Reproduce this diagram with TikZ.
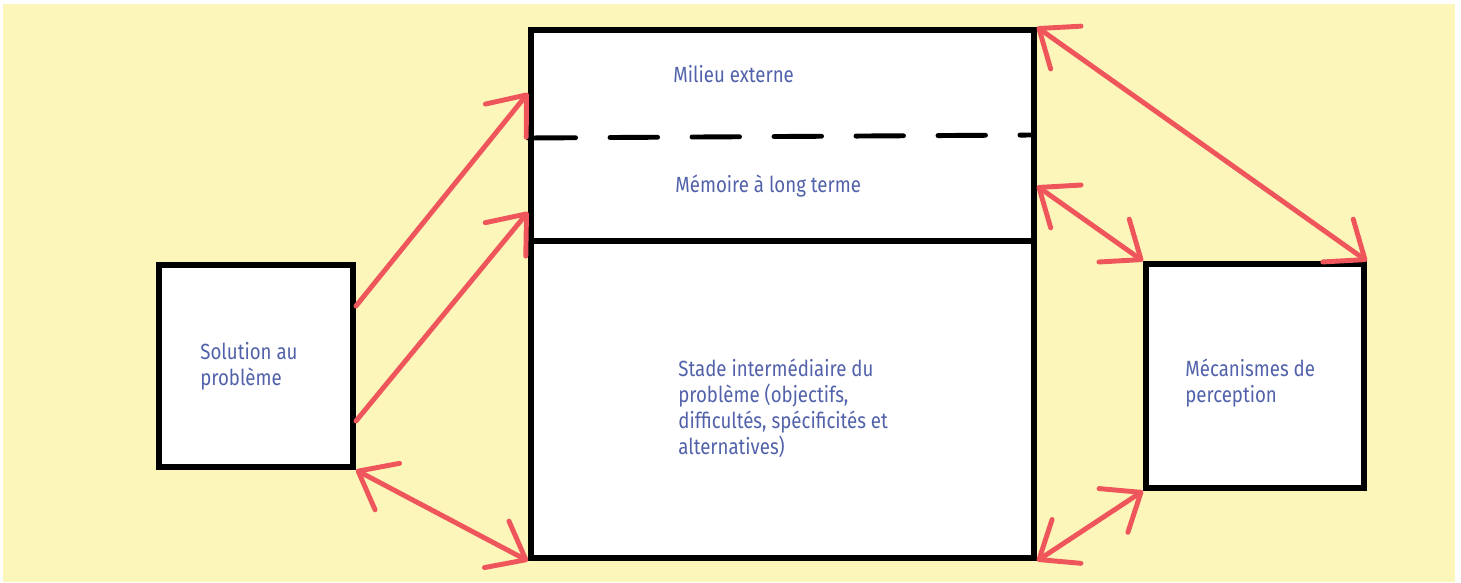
\documentclass[tikz,border=0pt]{standalone}
\usepackage{fontspec}
\newfontfamily\diagfont[FakeStretch=0.85]{Fira Sans}
\usetikzlibrary{arrows.meta,calc}
\definecolor{paper}{RGB}{253,246,186}
\definecolor{pen}{RGB}{239,86,92}
\definecolor{ink}{RGB}{82,98,170}
\tikzstyle{box}=[draw=black, fill=white
%,rounded corners
,line width=3.4pt
,inner sep=0pt
]
\tikzstyle{txt}=[anchor=west, align=left, inner sep=0pt, text=ink, font=\diagfont\fontsize{12.5}{14.8}\selectfont]
\tikzstyle{link} = [draw=pen, line width=2.8pt, line cap=round]
\tikzset{barb/.tip={Straight Barb[length=0.66cm, width=1.05cm, round]}}

\begin{document}
\begin{tikzpicture}[x=0.02cm,y=-0.02cm]
    % Paper and frame
    \useasboundingbox (0,0) rectangle (1461,582);
    \fill[paper] (3,4) rectangle (1455,582);

    % First we draw the boxes
    \node[box, minimum width=3.88cm, minimum height=4.04cm] (sol) at (256,366) {};
    \node[box, minimum width=10.06cm, minimum height=10.56cm] (main) at (782.5,294) {};
    \node[box, minimum width=4.36cm, minimum height=4.48cm] (perc) at (1255,376) {};

    % Split the middle box
    \draw[line width=3.4pt] (main.west |- 0,241) -- (main.east |- 0,241);
    \draw[line width=2.8pt, line cap=round, dash pattern=on 0.95cm off 0.69cm] (main.west |- 0,138) -- ([xshift=-0.1cm]main.east |- 0,135);

    % Texts
    \node[txt] (milieu) at (673,74) {Milieu externe};
    \node[txt] (memoire) at (675,186) {Mémoire à long terme};
    \node[txt] (stade) at (678,408) {Stade intermédiaire du\\problème (objectifs,\\difficultés, spécificités et\\alternatives)};
    \node[txt] (soltxt) at (200,366) {Solution au\\problème};
    \node[txt] (perctxt) at (1185,383) {Mécanismes de\\perception};

    % Ends of the arrows on the box sides
    \coordinate (s1) at (sol.east |- 0,306);
    \coordinate (s2) at (sol.east |- 0,421);
    \coordinate (m1) at (main.west |- 0,93);
    \coordinate (m2) at (main.west |- 0,212);
    \coordinate (m3) at (main.east |- 0,186);

    % Connect boxes with arrows
    \foreach \source/ \dest in {s1/m1, s2/m2}
        \path[link, -barb] (\source) -- (\dest) ;
    \foreach \source/ \dest in {sol.south east/main.south west, main.north east/perc.north east, m3/perc.north west, main.south east/perc.south west}
        \path[link, barb-barb] (\source) -- (\dest) ;

\end{tikzpicture}
\end{document}
